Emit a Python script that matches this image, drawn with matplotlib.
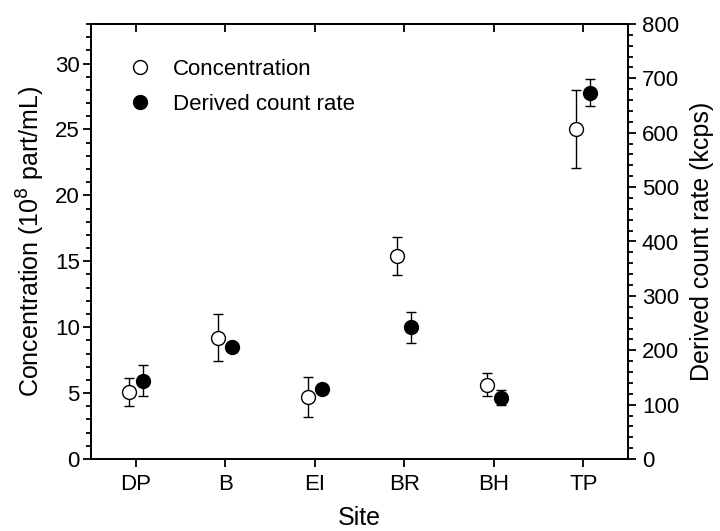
import matplotlib
matplotlib.use('Agg')
import matplotlib.pyplot as plt
from matplotlib.ticker import MultipleLocator
from matplotlib.lines import Line2D

plt.rcParams['font.family'] = ['Liberation Sans', 'DejaVu Sans']

#Data
sites = ['DP', 'B', 'EI', 'BR', 'BH', 'TP']
conc = [5.1, 9.2, 4.7, 15.4, 5.65, 25.05]
conc_err = [1.05, 1.8, 1.5, 1.47, 0.9, 2.97]
dcr = [144, 206, 129, 242, 113, 674]
dcr_err = [28, 0, 0, 28, 14, 25]

fig = plt.figure(figsize=(7.2, 5.31), dpi=100)
ax = fig.add_axes([91/720, 1-459/531, 537/720, 435/531])
ax2 = ax.twinx()

pos = list(range(1, len(sites)+1))
off = 0.08
#Concentration, open markers on left axis
ax.errorbar([p-off for p in pos], conc, yerr=conc_err, fmt='o', mfc='white', mec='black',
            ms=10, mew=1.0, ecolor='black', elinewidth=1.0, capsize=3.5, capthick=1.0, zorder=3)
#Derived count rate, filled markers on right axis
ax2.errorbar([p+off for p in pos], dcr, yerr=dcr_err, fmt='o', mfc='black', mec='black',
             ms=10, ecolor='black', elinewidth=1.0, capsize=3.5, capthick=1.0, zorder=3)

ax.set_xlim(0.5, 6.5)
ax.set_ylim(0, 33)
ax2.set_ylim(0, 800)
ax.set_xticks(pos)
ax.set_xticklabels(sites)
ax.yaxis.set_major_locator(MultipleLocator(5))
ax.yaxis.set_minor_locator(MultipleLocator(1))
ax2.yaxis.set_major_locator(MultipleLocator(100))
ax2.yaxis.set_minor_locator(MultipleLocator(20))

for a in (ax, ax2):
    for s in a.spines.values():
        s.set_linewidth(1.3)
ax.tick_params(axis='x', which='major', direction='out', length=6, width=1.3, labelsize=16,
               top=True, bottom=True, pad=5)
ax.tick_params(axis='y', which='major', direction='out', length=6, width=1.3, labelsize=16, pad=2)
ax.tick_params(axis='y', which='minor', direction='out', length=3.5, width=1.3)
ax2.tick_params(axis='y', which='major', direction='out', length=6, width=1.3, labelsize=16, pad=4)
ax2.tick_params(axis='y', which='minor', direction='out', length=3.5, width=1.3)
#top ticks point inward
for t in ax.xaxis.get_major_ticks():
    t.tick2line.set_marker(3)
    t.tick2line.set_markersize(6)

ax.set_xlabel('Site', fontsize=18, labelpad=8)
ax.set_ylabel('Concentration (10$^{8}$ part/mL)', fontsize=18, labelpad=6)
ax2.set_ylabel('Derived count rate (kcps)', fontsize=18, labelpad=8)

handles = [Line2D([], [], ls='none', marker='o', ms=10, mfc='white', mec='black', mew=1.0),
           Line2D([], [], ls='none', marker='o', ms=10, mfc='black', mec='black')]
ax.legend(handles, ['Concentration', 'Derived count rate'], loc='upper left',
          bbox_to_anchor=(0.012, 0.965), frameon=False, fontsize=16, handletextpad=0.5,
          labelspacing=0.62)

plt.savefig('out.png', dpi=100)
